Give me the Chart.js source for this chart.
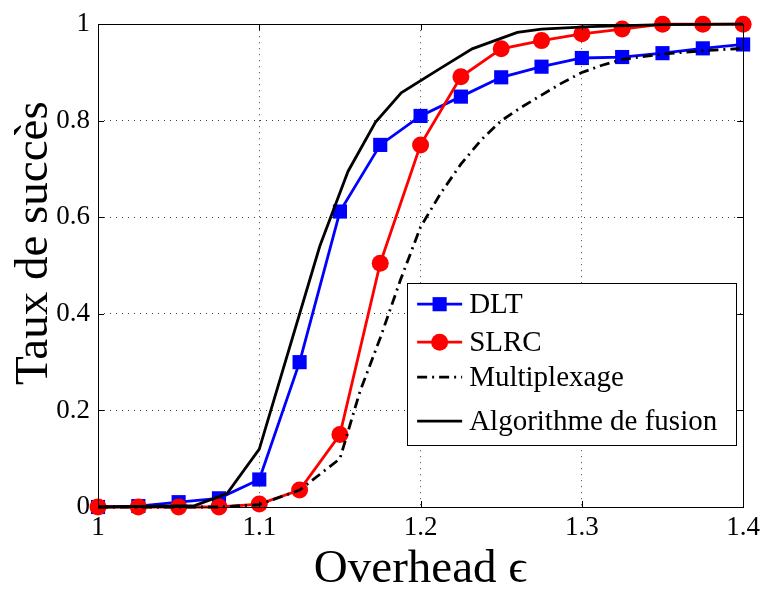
<!DOCTYPE html>
<html>
<head>
<meta charset="utf-8">
<script src="https://cdn.jsdelivr.net/npm/chart.js@4.4.0/dist/chart.umd.min.js"></script>
<style>
    body { margin: 0; background: #fff; }
</style>
</head>
<body>
<canvas id="grafico" width="765" height="589"></canvas>
<script>

// valeurs
var overhead = [1, 1.025, 1.05, 1.075, 1.1, 1.125, 1.15, 1.175, 1.2, 1.225, 1.25, 1.275, 1.3, 1.325, 1.35, 1.375, 1.4];
var tauxDLT = [0, 0.002, 0.01, 0.018, 0.057, 0.30, 0.612, 0.75, 0.81, 0.85, 0.89, 0.912, 0.93, 0.932, 0.94, 0.95, 0.958];
var tauxSLRC = [0, 0, 0, 0, 0.006, 0.035, 0.15, 0.505, 0.75, 0.891, 0.949, 0.966, 0.98, 0.99, 1, 1, 1];

var multiplexageX = [1, 1.075, 1.1, 1.125, 1.15, 1.1625, 1.175, 1.1875, 1.2, 1.2125, 1.225, 1.2375, 1.25, 1.2625, 1.275, 1.2875, 1.3, 1.3125, 1.325, 1.35, 1.375, 1.4];
var multiplexageY = [0, 0, 0.005, 0.035, 0.10, 0.24, 0.35, 0.47, 0.58, 0.65, 0.71, 0.76, 0.80, 0.828, 0.853, 0.878, 0.90, 0.915, 0.927, 0.938, 0.945, 0.95];

var fusionX = [1, 1.06, 1.08, 1.1, 1.1375, 1.155, 1.172, 1.188, 1.212, 1.232, 1.26, 1.275, 1.305, 1.35, 1.4];
var fusionY = [0, 0.003, 0.028, 0.12, 0.54, 0.695, 0.797, 0.858, 0.908, 0.949, 0.983, 0.99, 0.995, 0.999, 1];

var xTicks = [1, 1.1, 1.2, 1.3, 1.4];
var xTickLabels = ['1', '1.1', '1.2', '1.3', '1.4'];
var yTicks = [0, 0.2, 0.4, 0.6, 0.8, 1];
var yTickLabels = ['0', '0.2', '0.4', '0.6', '0.8', '1'];

var legende = ['DLT', 'SLRC', 'Multiplexage', 'Algorithme de fusion'];
var titreX = 'Overhead \u03F5';
var titreY = 'Taux de succès';

var police = '"Liberation Serif", "Times New Roman", serif';

function pares(xs, ys) {
    return xs.map(function (x, i) { return { x: x, y: ys[i] }; });
}

const cadre = {
    id: 'cadre',
    afterDraw(chart) {
        const ctx = chart.ctx;
        const a = chart.chartArea;
        const sx = chart.scales.x;
        const sy = chart.scales.y;
        ctx.save();

        // boite + petites graduations vers l'interieur
        ctx.strokeStyle = '#000';
        ctx.lineWidth = 1;
        ctx.setLineDash([]);
        ctx.strokeRect(Math.round(a.left) + 0.5, Math.round(a.top) + 0.5, Math.round(a.right - a.left), Math.round(a.bottom - a.top));
        ctx.beginPath();
        xTicks.forEach(function (v) {
            var px = Math.round(sx.getPixelForValue(v)) + 0.5;
            ctx.moveTo(px, a.bottom); ctx.lineTo(px, a.bottom - 6);
            ctx.moveTo(px, a.top); ctx.lineTo(px, a.top + 6);
        });
        yTicks.forEach(function (v) {
            var py = Math.round(sy.getPixelForValue(v)) + 0.5;
            ctx.moveTo(a.left, py); ctx.lineTo(a.left + 6, py);
            ctx.moveTo(a.right, py); ctx.lineTo(a.right - 6, py);
        });
        ctx.stroke();

        // legende dans la zone du graphique
        var boxR = a.right - 7, boxT = a.top + 259, boxW = 329, boxH = 162;
        var boxL = boxR - boxW;
        var lignes = [21, 59, 94, 138];
        ctx.fillStyle = '#fff';
        ctx.fillRect(boxL, boxT, boxW, boxH);
        ctx.strokeRect(Math.round(boxL) + 0.5, Math.round(boxT) + 0.5, boxW, boxH);
        legende.forEach(function (nom, i) {
            var ds = chart.data.datasets.find(function (d) { return d.label === nom; });
            var y = boxT + lignes[i];
            var x0 = boxL + 10, x1 = boxL + 55;
            ctx.strokeStyle = ds.borderColor;
            ctx.lineWidth = ds.borderWidth;
            ctx.setLineDash(ds.borderDash || []);
            ctx.beginPath();
            ctx.moveTo(x0, y); ctx.lineTo(x1, y);
            ctx.stroke();
            ctx.setLineDash([]);
            if (ds.pointRadius > 0) {
                var cx = (x0 + x1) / 2;
                ctx.fillStyle = ds.backgroundColor;
                ctx.beginPath();
                if (ds.pointStyle === 'rect') {
                    var s = ds.pointRadius * Math.SQRT1_2;
                    ctx.rect(cx - s, y - s, 2 * s, 2 * s);
                } else {
                    ctx.arc(cx, y, ds.pointRadius, 0, Math.PI * 2);
                }
                ctx.fill();
            }
            ctx.fillStyle = '#000';
            ctx.font = '29px ' + police;
            ctx.textAlign = 'left';
            ctx.textBaseline = 'middle';
            ctx.fillText(nom, boxL + 62, y + 1);
        });

        // titres des axes
        ctx.fillStyle = '#000';
        ctx.font = '47px ' + police;
        ctx.textAlign = 'center';
        ctx.textBaseline = 'alphabetic';
        ctx.fillText(titreX, (a.left + a.right) / 2, a.bottom + 75);

        ctx.translate(a.left - 51, a.top + 219);
        ctx.rotate(-Math.PI / 2);
        ctx.fillText(titreY, 0, 0);

        ctx.restore();
    }
};

const grafico = document.getElementById('grafico');

new Chart(grafico, {
    type: 'line',
    data: {
        datasets: [
            {
                label: 'Algorithme de fusion',
                data: pares(fusionX, fusionY),
                borderColor: '#000',
                backgroundColor: '#000',
                borderWidth: 2.8,
                pointRadius: 0,
                tension: 0,
                clip: false,
                order: 0
            },
            {
                label: 'Multiplexage',
                data: pares(multiplexageX, multiplexageY),
                borderColor: '#000',
                backgroundColor: '#000',
                borderWidth: 2.8,
                borderDash: [10, 5, 2, 5],
                pointRadius: 0,
                tension: 0,
                clip: false,
                order: 1
            },
            {
                label: 'SLRC',
                data: pares(overhead, tauxSLRC),
                borderColor: '#ff0000',
                backgroundColor: '#ff0000',
                borderWidth: 2.8,
                pointStyle: 'circle',
                pointRadius: 8.5,
                pointBorderWidth: 0,
                tension: 0,
                clip: false,
                order: 2
            },
            {
                label: 'DLT',
                data: pares(overhead, tauxDLT),
                borderColor: '#0000ff',
                backgroundColor: '#0000ff',
                borderWidth: 2.8,
                pointStyle: 'rect',
                pointRadius: 10,
                pointBorderWidth: 0,
                tension: 0,
                clip: false,
                order: 3
            }
        ]
    },
    options: {
        responsive: false,
        animation: false,
        devicePixelRatio: 1,
        layout: {
            padding: { top: 15, right: 21, left: 0, bottom: 0 }
        },
        plugins: {
            legend: { display: false },
            tooltip: { enabled: false }
        },
        scales: {
            x: {
                type: 'linear',
                min: 1,
                max: 1.4,
                afterFit: function (s) { s.height = 82; },
                afterBuildTicks: function (s) { s.ticks = xTicks.map(function (v) { return { value: v }; }); },
                ticks: {
                    callback: function (v, i) { return xTickLabels[i]; },
                    font: { family: police, size: 27 },
                    color: '#000',
                    padding: 5,
                    maxRotation: 0,
                    autoSkip: false
                },
                grid: { color: 'rgba(0,0,0,0.75)', lineWidth: 1, drawTicks: false },
                border: { display: false, dash: [1, 5] }
            },
            y: {
                min: 0,
                max: 1,
                afterFit: function (s) { s.width = 98; },
                afterBuildTicks: function (s) { s.ticks = yTicks.map(function (v) { return { value: v }; }); },
                ticks: {
                    callback: function (v, i) { return yTickLabels[i]; },
                    font: { family: police, size: 27 },
                    color: '#000',
                    padding: 8,
                    autoSkip: false
                },
                grid: { color: 'rgba(0,0,0,0.75)', lineWidth: 1, drawTicks: false },
                border: { display: false, dash: [1, 5] }
            }
        }
    },
    plugins: [cadre]
});

</script>
</body>
</html>
